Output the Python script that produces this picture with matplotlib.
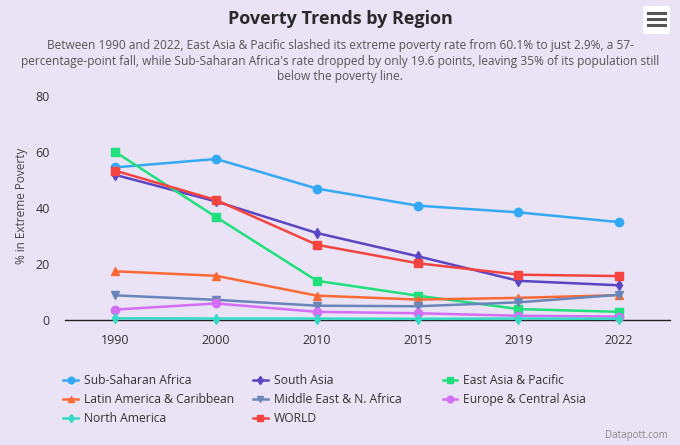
import numpy as np
import matplotlib
matplotlib.use('Agg')
import matplotlib.pyplot as plt
from matplotlib.patches import FancyBboxPatch

plt.rcParams['font.family'] = ['Open Sans', 'DejaVu Sans']

years = ['1990', '2000', '2010', '2015', '2019', '2022']

ssa = [54.6, 57.6, 47.0, 40.9, 38.5, 35.0]
south_asia = [51.9, 42.4, 31.1, 22.8, 14.0, 12.4]
east_asia = [60.1, 36.8, 14.0, 8.7, 3.9, 2.9]
latam = [17.4, 15.8, 8.7, 7.3, 7.9, 8.9]
mena = [8.8, 7.2, 5.1, 4.9, 6.3, 9.0]
europe = [3.7, 5.9, 2.9, 2.4, 1.5, 1.2]
north_america = [0.6, 0.5, 0.5, 0.4, 0.5, 0.4]
world = [53.4, 42.9, 26.9, 20.3, 16.2, 15.7]

names = ['Sub-Saharan Africa', 'South Asia', 'East Asia & Pacific',
         'Latin America & Caribbean', 'Middle East & N. Africa', 'Europe & Central Asia',
         'North America', 'WORLD']
series = [ssa, south_asia, east_asia, latam, mena, europe, north_america, world]
colors = ['#33a9f4', '#5a45c2', '#1fe07a', '#fb6a35', '#6a86b8', '#d46ef5', '#35d9c4', '#f5443f']
markers = ['o', 'd', 's', '^', 'v', 'o', 'd', 's']

bg = '#e9e3f5'
fig = plt.figure(figsize=(6.8, 4.45), dpi=100, facecolor=bg)
ax = fig.add_axes([0.0956, 0.281, 0.889, 0.515])
ax.set_facecolor(bg)

x = np.arange(len(years))
handles = []
for vals, name, c, m in zip(series, names, colors, markers):
    ms = 6 if m in ('o', 's') else 5.5
    h, = ax.plot(x, vals, color=c, marker=m, markersize=ms, linewidth=1.8,
                 label=name, clip_on=False, zorder=3)
    handles.append(h)

ax.set_xlim(-0.5, 5.5)
ax.set_ylim(0, 82)
ax.set_xticks(x)
ax.set_xticklabels(years)
ax.set_yticks([0, 20, 40, 60, 80])
ax.tick_params(length=0, labelsize=9, colors='#333333', pad=10)
ax.tick_params(axis='y', pad=11)
for s in ['top', 'right', 'left']:
    ax.spines[s].set_visible(False)
ax.spines['bottom'].set_color('#222222')
ax.spines['bottom'].set_linewidth(1.0)
ax.set_ylabel('% in Extreme Poverty', fontsize=8.5, color='#444444', labelpad=5)

fig.text(0.5, 0.958, 'Poverty Trends by Region', ha='center', va='center',
         fontsize=13, fontweight='bold', color='#2a2a2a')
fig.text(0.5, 0.862,
         "Between 1990 and 2022, East Asia & Pacific slashed its extreme poverty rate from 60.1% to just 2.9%, a 57-\n"
         "percentage-point fall, while Sub-Saharan Africa's rate dropped by only 19.6 points, leaving 35% of its population still\n"
         "below the poverty line.",
         ha='center', va='center', fontsize=8.6, color='#555555', linespacing=1.25)

# legend: three columns, filled row by row like the original
cols = [[0, 3, 6], [1, 4, 7], [2, 5]]
col_x = [0.086, 0.365, 0.644]
for idx, cx in zip(cols, col_x):
    fig.legend([handles[i] for i in idx], [names[i] for i in idx],
               loc='upper left', bbox_to_anchor=(cx, 0.170), frameon=False,
               fontsize=8.7, handlelength=1.2, handletextpad=0.5, markerscale=0.8,
               labelspacing=0.5, labelcolor='#333333', borderaxespad=0)

fig.text(0.982, 0.008, 'Datapott.com', ha='right', va='bottom', fontsize=7, color='#888888')

# menu button
btn = FancyBboxPatch((643 / 680, 1 - 34 / 445), 27 / 680, 28 / 445,
                     boxstyle='round,pad=0,rounding_size=0.004', transform=fig.transFigure,
                     facecolor='white', edgecolor='none')
fig.patches.append(btn)
for yy in (13, 19, 25):
    fig.add_artist(plt.Line2D([648 / 680, 665 / 680], [1 - yy / 445, 1 - yy / 445],
                              transform=fig.transFigure, color='#555555', linewidth=2.2))

fig.savefig('out.png', dpi=100, facecolor=bg)
